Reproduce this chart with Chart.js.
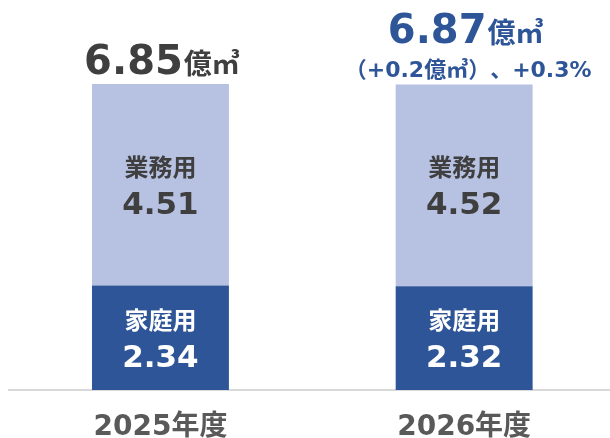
<!DOCTYPE html>
<html>
<head>
<meta charset="utf-8">
<script src="https://cdn.jsdelivr.net/npm/chart.js@4/dist/chart.umd.min.js"></script>
<style>
  html, body { margin: 0; padding: 0; background: #ffffff; overflow: hidden; }
  #wrap { width: 610px; height: 438px; overflow: hidden; }
</style>
</head>
<body>
<div id="wrap"><canvas id="c" width="616" height="438"></canvas></div>
<script>
// ---- data ----
const categories = ['2025年度', '2026年度'];
const householdValues = [2.34, 2.32];
const businessValues = [4.51, 4.52];
const totalValues = [6.85, 6.87];
const segmentNames = ['家庭用', '業務用'];
const totalUnit = '億㎥';
const changeNotes = ['', '（+0.2億㎥）、+0.3%'];

// ---- styles ----
const DARK = '#2E5597';
const LIGHT = '#B7C1E1';
const TEXT_DARK = '#3F3F3F';
const LATIN = "'DejaVu Sans'";
const CJK = "'Noto Sans CJK JP'";
const MIX = LATIN + ', ' + CJK;

function drawRuns(ctx, str, cx, y, size) {
  // ASCII runs in Latin font; every non-ASCII char as a full-width cell in CJK font
  const runs = [];
  for (const ch of str) {
    const ascii = ch.charCodeAt(0) < 128;
    if (ascii && runs.length && runs[runs.length - 1].ascii) runs[runs.length - 1].t += ch;
    else runs.push({ ascii, t: ch });
  }
  let total = 0;
  runs.forEach(r => {
    if (r.ascii) {
      ctx.font = 'bold ' + size + 'px ' + LATIN;
      r.w = ctx.measureText(r.t).width;
    } else {
      r.w = size;
    }
    total += r.w;
  });
  let x = cx - total / 2;
  runs.forEach(r => {
    ctx.font = 'bold ' + size + 'px ' + (r.ascii ? LATIN : CJK);
    if (!r.ascii && '（「『【'.includes(r.t)) {
      ctx.textAlign = 'right';
      ctx.fillText(r.t, x + r.w, y);
    } else if (!r.ascii && '）」』】、。'.includes(r.t)) {
      ctx.textAlign = 'left';
      ctx.fillText(r.t, x, y);
    } else if (!r.ascii) {
      ctx.textAlign = 'center';
      ctx.fillText(r.t, x + r.w / 2, y);
    } else {
      ctx.textAlign = 'left';
      ctx.fillText(r.t, x, y);
    }
    x += r.w;
  });
}

const labelPlugin = {
  id: 'labels',
  afterDatasetsDraw(chart) {
    const ctx = chart.ctx;
    const mHouse = chart.getDatasetMeta(0);
    const mBus = chart.getDatasetMeta(1);
    ctx.save();
    ctx.textBaseline = 'alphabetic';
    categories.forEach((cat, i) => {
      const bH = mHouse.data[i];
      const bB = mBus.data[i];
      const segs = [
        { el: bB, name: segmentNames[1], val: businessValues[i], color: TEXT_DARK, top: bB.y, bottom: bB.base },
        { el: bH, name: segmentNames[0], val: householdValues[i], color: '#FFFFFF', top: bH.y, bottom: bH.base }
      ];
      segs.forEach(s => {
        const yc = (s.top + s.bottom) / 2;
        ctx.fillStyle = s.color;
        ctx.textAlign = 'center';
        ctx.font = 'bold 24px ' + CJK;
        ctx.fillText(s.name, s.el.x, yc - 9);
        ctx.font = 'bold 31px ' + LATIN;
        ctx.fillText(s.val.toFixed(2), s.el.x, yc + 29);
      });
      const hasNote = changeNotes[i] !== '';
      const color = hasNote ? DARK : TEXT_DARK;
      const numStr = totalValues[i].toFixed(2);
      ctx.textAlign = 'left';
      ctx.font = 'bold 40px ' + LATIN;
      const wNum = ctx.measureText(numStr).width;
      ctx.font = 'bold 28px ' + CJK;
      const wUnit = ctx.measureText(totalUnit).width;
      const x0 = bB.x + 1 - (wNum + wUnit) / 2;
      const yMain = hasNote ? bB.y - 41 : bB.y - 10;
      ctx.fillStyle = color;
      ctx.font = 'bold 40px ' + LATIN;
      ctx.fillText(numStr, x0, yMain);
      ctx.font = 'bold 28px ' + CJK;
      ctx.fillText(totalUnit, x0 + wNum + 1, yMain);
      if (hasNote) {
        drawRuns(ctx, changeNotes[i], bB.x + 4, bB.y - 7, 22);
      }
    });
    ctx.restore();
  }
};

new Chart(document.getElementById('c'), {
  type: 'bar',
  data: {
    labels: categories,
    datasets: [
      { label: segmentNames[0], data: householdValues, backgroundColor: DARK, borderWidth: 0 },
      { label: segmentNames[1], data: businessValues, backgroundColor: LIGHT, borderWidth: 0 }
    ]
  },
  options: {
    responsive: false,
    animation: false,
    devicePixelRatio: 1,
    layout: { padding: { left: 8.6, right: 0, top: 0, bottom: 0 } },
    plugins: { legend: { display: false }, tooltip: { enabled: false } },
    datasets: { bar: { categoryPercentage: 0.9, barPercentage: 0.501 } },
    scales: {
      x: {
        stacked: true,
        grid: { display: false, drawTicks: false },
        border: { display: true, color: '#D9D9D9', width: 2 },
        ticks: { color: '#595959', font: { family: MIX, size: 28, weight: 'bold' }, padding: 21 },
        afterFit: s => { s.height = 48; }
      },
      y: {
        stacked: true,
        display: false,
        min: 0,
        max: 8.73
      }
    }
  },
  plugins: [labelPlugin]
});
</script>
</body>
</html>
